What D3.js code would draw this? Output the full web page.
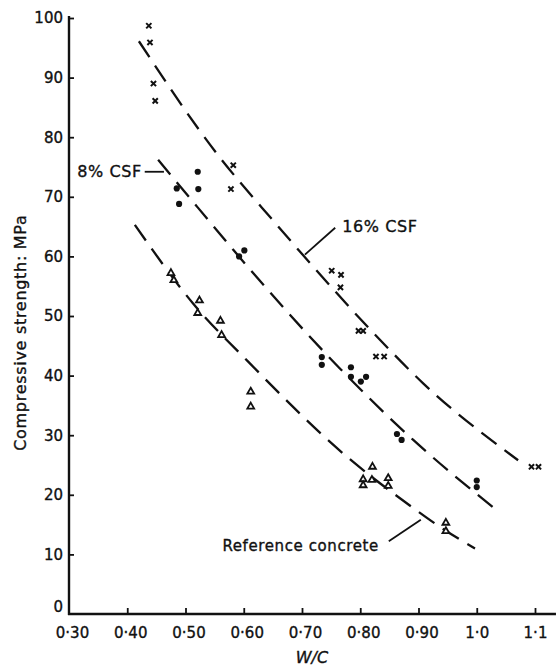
<!DOCTYPE html>
<html>
<head>
<meta charset="utf-8">
<script src="https://cdn.jsdelivr.net/npm/d3@7"></script>
<style>
body { margin: 0; background: #fff; }
text { font-family: "DejaVu Sans", sans-serif; fill: #111; stroke: #111; stroke-width: 0.35px; }
</style>
</head>
<body>
<script>
// values: W/C ratio vs compressive strength (MPa)
var csf16W = [0.437, 0.439, 0.445, 0.448, 0.582, 0.578, 0.751, 0.767, 0.766, 0.797, 0.805, 0.827, 0.841, 1.094, 1.106];
var csf16S = [98.7, 95.9, 89.0, 86.1, 75.3, 71.3, 57.6, 56.9, 54.8, 47.5, 47.5, 43.2, 43.2, 24.7, 24.7];

var csf8W = [0.521, 0.485, 0.522, 0.489, 0.592, 0.601, 0.734, 0.734, 0.784, 0.784, 0.801, 0.810, 0.863, 0.871, 1.0, 1.0];
var csf8S = [74.2, 71.4, 71.3, 68.8, 60.0, 61.0, 43.1, 41.8, 41.4, 39.8, 39.0, 39.8, 30.2, 29.2, 22.4, 21.3];

var refW = [0.475, 0.480, 0.524, 0.521, 0.560, 0.562, 0.612, 0.612, 0.821, 0.805, 0.805, 0.820, 0.848, 0.848, 0.947, 0.947];
var refS = [57.2, 56.0, 52.6, 50.5, 49.2, 46.8, 37.3, 34.8, 24.7, 22.6, 21.6, 22.5, 22.8, 21.5, 15.3, 13.9];

// fitted curves (traced)
var fit16W = [0.420, 0.551, 0.654, 0.702, 0.828, 0.908, 1.071];
var fit16S = [96.1, 77.6, 65.6, 60.2, 46.6, 38.7, 25.8];
var fit8W = [0.453, 0.522, 0.582, 0.765, 0.891, 1.028];
var fit8S = [76.2, 68.1, 61.1, 41.2, 29.2, 17.9];
var fitRefW = [0.413, 0.513, 0.608, 0.777, 0.888, 0.934, 0.997];
var fitRefS = [65.3, 52.1, 42.3, 26.4, 18.0, 14.8, 11.0];

var xTicks = [0.3, 0.4, 0.5, 0.6, 0.7, 0.8, 0.9, 1.0, 1.1];
var xTickLabels = ["0·30", "0·40", "0·50", "0·60", "0·70", "0·80", "0·90", "1·0", "1·1"];
var yTicks = [0, 10, 20, 30, 40, 50, 60, 70, 80, 90, 100];

var w = 560, h = 669;

var svg = d3.select("body")
  .append("svg")
  .attr("width", w)
  .attr("height", h);

var x = d3.scaleLinear().domain([0.3, 1.1]).range([69, 535]);
var y = d3.scaleLinear().domain([0, 100]).range([614, 18]);

// axes
var yAxis = d3.axisLeft(y)
  .tickValues(yTicks)
  .tickSizeInner(-5)
  .tickSizeOuter(0)
  .tickPadding(6);

var gy = svg.append("g")
  .attr("transform", "translate(" + x(0.3) + ",0)")
  .call(yAxis);

var xAxis = d3.axisBottom(x)
  .tickValues(xTicks)
  .tickFormat((d, i) => xTickLabels[i])
  .tickSizeInner(-6)
  .tickSizeOuter(0)
  .tickPadding(13);

var gx = svg.append("g")
  .attr("transform", "translate(0," + y(0) + ")")
  .call(xAxis);

[gx, gy].forEach(g => {
  g.select(".domain").remove();
  g.selectAll("line").attr("stroke", "#111").attr("stroke-width", 1.8);
  g.selectAll("text").style("font-size", "15px").attr("fill", "#111");
});
gy.selectAll(".tick").filter(d => d === 0).select("line").remove();
gy.selectAll(".tick").filter(d => d === 0).select("text").attr("dy", "-0.2em");
gx.selectAll(".tick").filter(d => d === 0.3).select("line").remove();
gx.selectAll(".tick text").attr("dx", (d) => d < 1 ? 3 : 0);

// axis lines
svg.append("line")
  .attr("x1", x(0.3)).attr("x2", x(0.3))
  .attr("y1", y(100) - 2).attr("y2", y(0) + 1)
  .attr("stroke", "#111").attr("stroke-width", 2.4);
svg.append("line")
  .attr("x1", x(0.3) - 1).attr("x2", x(1.136))
  .attr("y1", y(0)).attr("y2", y(0))
  .attr("stroke", "#111").attr("stroke-width", 2.4);

// axis titles
svg.append("text")
  .attr("transform", "translate(20," + y(47.2) + ") rotate(-90)")
  .attr("text-anchor", "middle")
  .attr("dy", "0.35em")
  .style("font-size", "16px")
  .style("letter-spacing", "0.7px")
  .text("Compressive strength: MPa");

svg.append("text")
  .attr("x", x(0.717))
  .attr("y", 657)
  .attr("text-anchor", "middle")
  .attr("dy", "0.35em")
  .style("font-size", "16px")
  .style("font-style", "italic")
  .text("W/C");

// dashed fitted curves
var line = d3.line()
  .x(d => x(d[0]))
  .y(d => y(d[1]))
  .curve(d3.curveMonotoneX);

[[fit16W, fit16S], [fit8W, fit8S], [fitRefW, fitRefS]].forEach(c => {
  svg.append("path")
    .attr("d", line(d3.zip(c[0], c[1])))
    .attr("fill", "none")
    .attr("stroke", "#111")
    .attr("stroke-width", 2.3)
    .attr("stroke-dasharray", "19,10");
});

// 16% CSF: crosses
svg.append("g").selectAll("path")
  .data(d3.zip(csf16W, csf16S))
  .enter()
  .append("path")
  .attr("transform", d => "translate(" + x(d[0]) + "," + y(d[1]) + ")")
  .attr("d", "M-2.6,-2.6L2.6,2.6M2.6,-2.6L-2.6,2.6")
  .attr("stroke", "#111")
  .attr("stroke-width", 2);

// 8% CSF: dots
svg.append("g").selectAll("circle")
  .data(d3.zip(csf8W, csf8S))
  .enter()
  .append("circle")
  .attr("cx", d => x(d[0]))
  .attr("cy", d => y(d[1]))
  .attr("r", 3.1)
  .attr("fill", "#111");

// reference concrete: open triangles
svg.append("g").selectAll("path")
  .data(d3.zip(refW, refS))
  .enter()
  .append("path")
  .attr("transform", d => "translate(" + x(d[0]) + "," + y(d[1]) + ")")
  .attr("d", d3.symbol(d3.symbolTriangle, 20))
  .attr("fill", "#fff")
  .attr("stroke", "#111")
  .attr("stroke-width", 1.8);

// labels with leader lines
function label(txt, tw, ts, anchor, size, l1, l2) {
  svg.append("text")
    .attr("x", x(tw)).attr("y", y(ts))
    .attr("dy", "0.35em")
    .attr("text-anchor", anchor)
    .style("font-size", size)
    .style("letter-spacing", "0.6px")
    .text(txt);
  svg.append("line")
    .attr("x1", x(l1[0])).attr("y1", y(l1[1]))
    .attr("x2", x(l2[0])).attr("y2", y(l2[1]))
    .attr("stroke", "#111").attr("stroke-width", 1.8);
}

label("8% CSF", 0.425, 74.2, "end", "16px", [0.430, 74.2], [0.463, 74.2]);
label("16% CSF", 0.769, 65.1, "start", "16px", [0.757, 64.8], [0.705, 60.3]);
label("Reference concrete", 0.832, 11.4, "end", "15px", [0.849, 12.2], [0.904, 15.8]);
</script>
</body>
</html>
